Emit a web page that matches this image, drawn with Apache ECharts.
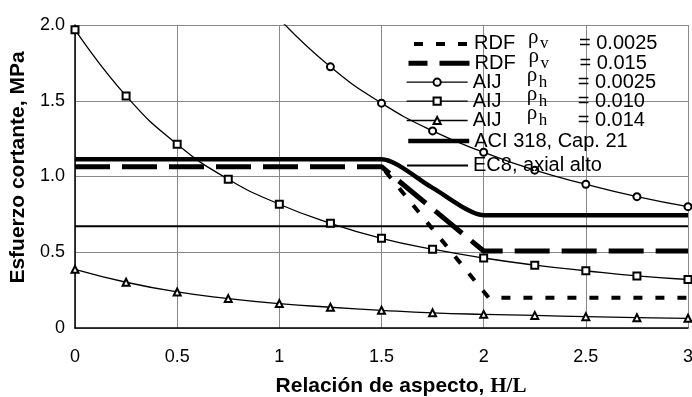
<!DOCTYPE html>
<html>
<head>
<meta charset="utf-8">
<script src="https://cdn.jsdelivr.net/npm/echarts@6/dist/echarts.min.js"></script>
<style>
  html, body { margin: 0; padding: 0; background: #fff; }
  #chart { width: 692px; height: 397px; }
</style>
</head>
<body>
<div id="chart"></div>
<script>
// Axis ticks
const xTicks = [0, 0.5, 1, 1.5, 2, 2.5, 3];
const yTickLabels = ['0', '0.5', '1.0', '1.5', '2.0'];

// AIJ curves, sampled every 0.25 of H/L
const aijRatio = [0, 0.25, 0.5, 0.75, 1, 1.25, 1.5, 1.75, 2, 2.25, 2.5, 2.75, 3];
const aij0010 = [1.969, 1.532, 1.213, 0.982, 0.817, 0.691, 0.592, 0.520, 0.462, 0.415, 0.378, 0.344, 0.320];
const aij0014 = [0.387, 0.302, 0.238, 0.194, 0.161, 0.137, 0.117, 0.100, 0.090, 0.083, 0.075, 0.068, 0.064];
const aij0025Ratio = [1, 1.25, 1.5, 1.75, 2, 2.25, 2.5, 2.75, 3];
const aij0025 = [2.04, 1.724, 1.484, 1.301, 1.160, 1.042, 0.949, 0.867, 0.801];

// RDF model
const rdf015Ratio = [0, 1.5, 2.0, 3];
const rdf015 = [1.065, 1.065, 0.508, 0.508];
const rdf0025Ratio = [1.5, 2.025, 3];
const rdf0025 = [1.065, 0.2, 0.2];

// ACI 318, Cap. 21
const aciRatio = [0, 0.25, 0.5, 0.75, 1, 1.25, 1.5, 1.75, 2, 2.25, 2.5, 2.75, 3];
const aci = [1.114, 1.114, 1.114, 1.114, 1.114, 1.114, 1.114, 0.925, 0.745, 0.745, 0.745, 0.745, 0.745];

// EC8, high axial load
const ec8Ratio = [0, 3];
const ec8 = [0.672, 0.672];

const seriesNames = [
  'RDF ρv = 0.0025', 'RDF ρv = 0.015',
  'AIJ ρh = 0.0025', 'AIJ ρh = 0.010', 'AIJ ρh = 0.014',
  'ACI 318, Cap. 21', 'EC8, axial alto'
];
const legendLabels = [
  '{n|RDF}{r|ρ}{s|v}{e|= 0.0025}',
  '{n|RDF}{r|ρ}{s|v}{e|= 0.015}',
  '{n|AIJ}{r|ρ}{s|h}{e|= 0.0025}',
  '{n|AIJ}{r|ρ}{s|h}{e|= 0.010}',
  '{n|AIJ}{r|ρ}{s|h}{e|= 0.014}',
  '{n|ACI 318, Cap. 21}',
  '{n|EC8, axial alto}'
];
const withMarker = [false, false, true, true, true, false, false];
// top edge of each legend row, px
const legendRowTop = [26.8, 46.1, 65.1, 84.1, 103.4, 131, 155.6];

const SANS = 'Arial, "Liberation Sans", sans-serif';
const SERIF = '"Times New Roman", "Liberation Serif", serif';
const ROW = 19.2;

function pairs(xs, ys) { return xs.map((x, i) => [x, ys[i]]); }

const markerSeries = (name, xs, ys, symbol) => ({
  name, type: 'line', data: pairs(xs, ys), smooth: 0.5,
  symbol, symbolSize: 7, showAllSymbol: true,
  lineStyle: { color: '#000', width: 1.3 },
  itemStyle: { color: '#000', borderWidth: 1.2 },
  z: 3
});

const legendRich = {
  n: { fontFamily: SANS, fontSize: 20, width: 54, height: ROW, lineHeight: ROW },
  // rho sits high in the row
  r: { fontFamily: SERIF, fontSize: 21, width: 12, height: 6, lineHeight: ROW, verticalAlign: 'top' },
  s: { fontFamily: SERIF, fontSize: 17, width: 39, height: ROW, lineHeight: ROW },
  e: { fontFamily: SANS, fontSize: 20, height: ROW, lineHeight: ROW }
};

const legends = seriesNames.map((name, i) => ({
  orient: 'vertical', left: 406, top: legendRowTop[i], padding: 0,
  itemWidth: 61, itemHeight: 9, itemGap: 0,
  selectedMode: false,
  lineStyle: { width: 'inherit' },
  formatter: () => legendLabels[i],
  textStyle: { color: '#000', rich: legendRich },
  data: [withMarker[i] ? { name } : { name, itemStyle: { opacity: 0 } }]
}));

const chart = echarts.init(document.getElementById('chart'), null, { renderer: 'canvas' });
chart.setOption({
  animation: false,
  backgroundColor: '#fff',
  grid: { left: 75, right: 4, top: 25, bottom: 69, containLabel: false, outerBoundsMode: 'none' },
  xAxis: {
    type: 'value', min: 0, max: 3, interval: 0.5,
    name: '{t|Relación de aspecto, }{h|H/L}',
    nameLocation: 'middle', nameGap: 48,
    nameTextStyle: {
      padding: [0, 0, 0, 39],
      rich: {
        t: { fontFamily: SANS, fontWeight: 'bold', fontSize: 21, color: '#000' },
        h: { fontFamily: SERIF, fontWeight: 'bold', fontSize: 21, color: '#000' }
      }
    },
    axisLine: { lineStyle: { color: '#000', width: 1.5 } },
    axisTick: { show: false },
    axisLabel: { color: '#000', fontFamily: SANS, fontSize: 18, margin: 20,
      formatter: v => String(xTicks[Math.round(v / 0.5)]) },
    splitLine: { show: true, lineStyle: { color: '#888', width: 1 } }
  },
  yAxis: {
    type: 'value', min: 0, max: 2, interval: 0.5,
    name: 'Esfuerzo cortante, MPa',
    nameLocation: 'middle', nameGap: 37, nameRotate: 90,
    nameTextStyle: { fontFamily: SANS, fontWeight: 'bold', fontSize: 21, color: '#000', padding: [0, 0, 0, 18] },
    axisLine: { show: true, lineStyle: { color: '#000', width: 1.5 } },
    axisTick: { show: false },
    axisLabel: { color: '#000', fontFamily: SANS, fontSize: 18, margin: 10,
      formatter: v => yTickLabels[Math.round(v / 0.5)] },
    splitLine: { show: true, lineStyle: { color: '#888', width: 1 } }
  },
  legend: legends,
  series: [
    {
      name: seriesNames[0], type: 'line', data: pairs(rdf0025Ratio, rdf0025), symbol: 'none',
      lineStyle: { color: '#000', width: 4, type: [9, 13], dashOffset: 16, cap: 'butt' },
      itemStyle: { color: '#000' }, z: 2
    },
    {
      name: seriesNames[1], type: 'line', data: pairs(rdf015Ratio, rdf015), symbol: 'none',
      lineStyle: { color: '#000', width: 5, type: [35, 12], cap: 'butt' },
      itemStyle: { color: '#000' }, z: 2
    },
    markerSeries(seriesNames[2], aij0025Ratio, aij0025, 'emptyCircle'),
    markerSeries(seriesNames[3], aijRatio, aij0010, 'emptyRect'),
    markerSeries(seriesNames[4], aijRatio, aij0014, 'emptyTriangle'),
    {
      name: seriesNames[5], type: 'line', data: pairs(aciRatio, aci), symbol: 'none', smooth: 0.25,
      lineStyle: { color: '#000', width: 4.5 },
      itemStyle: { color: '#000' }, z: 2
    },
    {
      name: seriesNames[6], type: 'line', data: pairs(ec8Ratio, ec8), symbol: 'none',
      lineStyle: { color: '#000', width: 2 },
      itemStyle: { color: '#000' }, z: 2
    }
  ]
});
</script>
</body>
</html>
